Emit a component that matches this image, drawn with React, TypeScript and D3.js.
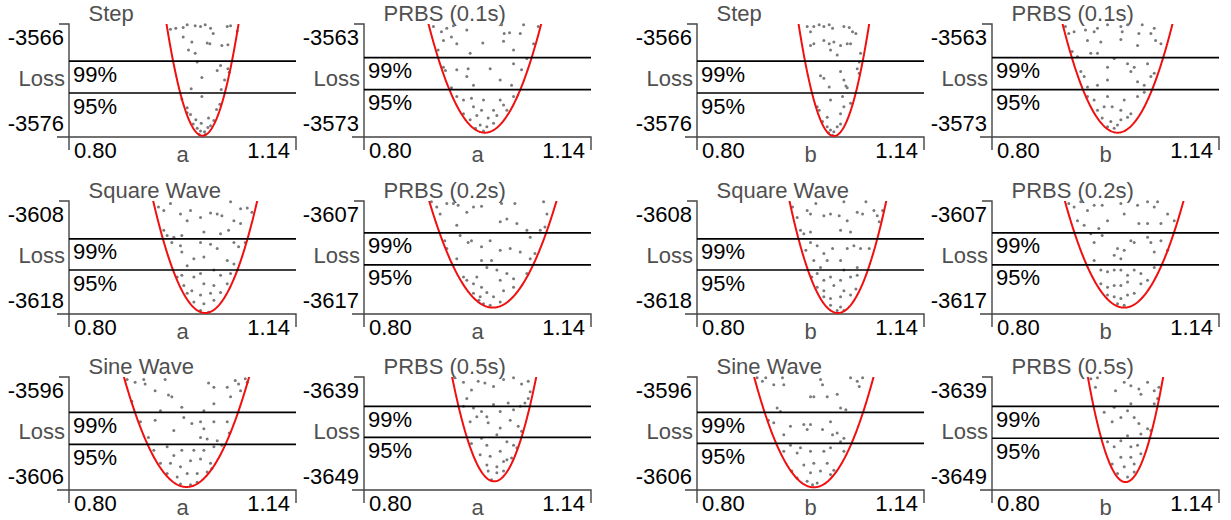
import * as d3 from "d3";

// panel order: row by row, left to right
const titles = ["Step", "PRBS (0.1s)", "Step", "PRBS (0.1s)", "Square Wave", "PRBS (0.2s)", "Square Wave", "PRBS (0.2s)", "Sine Wave", "PRBS (0.5s)", "Sine Wave", "PRBS (0.5s)"];
const paramNames = ["a", "a", "b", "b", "a", "a", "b", "b", "a", "a", "b", "b"];
const yTickTop = [-3566, -3563, -3566, -3563, -3608, -3607, -3608, -3607, -3596, -3639, -3596, -3639];
const yTickBottom = [-3576, -3573, -3576, -3573, -3618, -3617, -3618, -3617, -3606, -3649, -3606, -3649];
const xTicks = [0.8, 1.14];

// fitted quadratic: loss = fitMin + fitCurv * (p - fitArg)^2
const fitArg = [1.0, 0.981, 1.005, 0.988, 1.004, 0.993, 1.011, 0.998, 0.976, 0.995, 0.975, 1.0];
const fitMin = [-3577.45, -3574.1, -3577.49, -3574.1, -3619.48, -3617.86, -3619.48, -3617.86, -3607.25, -3649.6, -3607.29, -3649.68];
const fitCurv = [4450, 1770, 4650, 1860, 2140, 1360, 2470, 1565, 1450, 3050, 1600, 3830];

const level99 = [-3568.8, -3565.4, -3568.8, -3565.4, -3610.9, -3609.2, -3610.9, -3609.2, -3598.6, -3640.9, -3598.6, -3640.9];
const level95 = [-3572.5, -3569.1, -3572.5, -3569.1, -3614.5, -3612.9, -3614.5, -3612.9, -3602.3, -3644.5, -3602.2, -3644.6];

const stepA = [[0.952,-3565.1],[0.960,-3565.0],[0.971,-3564.9],[0.977,-3564.6],[0.989,-3564.7],[0.997,-3564.8],[1.004,-3564.6],[1.012,-3565.0],[1.016,-3565.6],[1.037,-3564.8],[1.042,-3564.7],[1.052,-3565.3],[0.984,-3566.6],[0.979,-3567.5],[0.989,-3567.9],[1.007,-3566.7],[1.011,-3566.8],[1.029,-3567.0],[1.038,-3566.9],[0.971,-3566.0],[0.992,-3568.9],[1.027,-3569.3],[1.022,-3569.9],[1.038,-3569.7],[1.040,-3570.1],[0.999,-3570.7],[1.033,-3571.0],[0.983,-3572.0],[0.999,-3572.9],[1.028,-3572.1],[0.969,-3573.2],[0.977,-3574.2],[0.977,-3574.8],[0.982,-3575.0],[1.026,-3573.8],[1.021,-3574.4],[1.009,-3575.4],[0.990,-3575.6],[1.017,-3575.7],[0.986,-3576.1],[0.992,-3576.6],[0.997,-3576.9],[1.003,-3577.0],[1.008,-3576.5],[1.012,-3576.3],[0.995,-3577.3],[1.004,-3577.3],[0.998,-3576.0]];
const prbs01A = [[0.904,-3561.8],[0.916,-3562.4],[0.924,-3562.0],[0.934,-3561.7],[0.954,-3562.2],[0.931,-3563.0],[0.919,-3563.4],[0.939,-3563.8],[0.959,-3564.9],[0.978,-3563.7],[1.006,-3561.6],[1.010,-3562.6],[1.018,-3562.5],[1.034,-3562.6],[1.039,-3561.6],[1.061,-3561.8],[1.054,-3563.8],[1.024,-3564.5],[1.044,-3565.5],[1.009,-3563.5],[0.911,-3564.5],[0.919,-3566.5],[0.922,-3566.9],[0.939,-3566.8],[0.954,-3567.6],[0.964,-3568.6],[0.956,-3566.7],[0.989,-3566.7],[1.024,-3566.1],[1.036,-3566.8],[1.004,-3568.0],[1.021,-3568.6],[0.931,-3568.9],[0.939,-3569.9],[0.949,-3570.3],[0.961,-3570.1],[0.979,-3570.3],[1.004,-3570.3],[1.024,-3569.9],[0.964,-3571.1],[0.976,-3571.5],[0.994,-3571.5],[1.009,-3570.9],[0.949,-3571.9],[0.969,-3572.1],[0.986,-3572.4],[0.999,-3572.1],[1.014,-3571.5],[0.959,-3572.6],[0.974,-3573.2],[0.984,-3573.4],[0.994,-3573.0],[0.967,-3573.6],[0.979,-3573.9]];
const stepB = [[0.965,-3564.8],[0.970,-3565.4],[0.975,-3564.8],[0.983,-3564.6],[0.990,-3564.8],[0.998,-3564.6],[1.003,-3565.0],[1.020,-3564.8],[1.028,-3564.9],[1.033,-3565.4],[1.038,-3565.6],[0.990,-3566.4],[0.998,-3566.8],[1.005,-3566.6],[1.015,-3567.0],[1.025,-3566.8],[1.030,-3566.8],[0.970,-3567.0],[0.975,-3566.8],[1.000,-3567.5],[1.010,-3568.1],[1.045,-3567.9],[1.043,-3568.9],[1.015,-3570.0],[1.020,-3571.0],[1.040,-3569.7],[1.043,-3570.2],[0.985,-3570.5],[0.990,-3570.8],[1.023,-3571.7],[1.025,-3571.9],[0.998,-3571.8],[1.018,-3572.9],[1.000,-3573.3],[0.980,-3574.1],[0.983,-3574.5],[0.995,-3575.3],[1.020,-3574.1],[1.030,-3573.7],[1.015,-3574.9],[0.988,-3575.8],[0.995,-3576.4],[1.000,-3576.8],[1.005,-3577.0],[1.010,-3576.4],[1.015,-3576.1],[0.997,-3577.1],[1.003,-3577.4]];
const prbs01B = [[0.910,-3561.8],[0.915,-3562.6],[0.923,-3562.4],[0.940,-3562.2],[0.953,-3562.4],[0.958,-3562.0],[0.963,-3563.6],[0.943,-3563.4],[0.973,-3561.6],[0.993,-3561.8],[0.995,-3562.4],[1.003,-3561.6],[1.020,-3562.6],[1.025,-3561.6],[1.038,-3562.6],[1.043,-3562.0],[1.045,-3563.4],[1.053,-3563.8],[0.993,-3563.3],[1.018,-3564.0],[0.920,-3564.7],[0.928,-3565.3],[0.948,-3564.9],[0.958,-3564.9],[0.973,-3566.5],[0.983,-3565.5],[1.003,-3566.1],[1.013,-3566.5],[1.033,-3566.1],[1.043,-3567.2],[1.038,-3567.6],[1.008,-3567.0],[0.933,-3567.0],[0.938,-3567.6],[0.973,-3568.0],[1.018,-3568.2],[1.028,-3568.6],[0.943,-3568.8],[0.958,-3568.6],[0.943,-3569.9],[0.953,-3570.3],[0.973,-3569.9],[0.998,-3570.3],[1.018,-3569.9],[1.028,-3569.4],[0.958,-3571.5],[0.968,-3571.1],[0.980,-3571.1],[0.993,-3571.5],[1.008,-3571.9],[0.965,-3572.4],[0.978,-3572.8],[0.993,-3572.6],[1.003,-3572.3],[0.973,-3573.4],[0.983,-3573.6],[0.988,-3573.2]];
const squareA = [[0.934,-3607.2],[0.942,-3607.6],[0.952,-3606.8],[0.967,-3608.0],[0.982,-3607.6],[0.997,-3608.4],[1.012,-3607.9],[1.022,-3608.0],[1.029,-3608.2],[1.042,-3606.6],[1.057,-3607.4],[1.067,-3607.3],[1.074,-3607.8],[1.047,-3608.8],[1.057,-3609.1],[1.039,-3609.9],[1.027,-3610.3],[1.002,-3610.1],[0.977,-3608.8],[0.942,-3609.9],[0.947,-3610.5],[0.957,-3610.7],[0.969,-3610.5],[0.954,-3611.3],[0.967,-3611.7],[0.969,-3612.4],[0.997,-3611.3],[1.012,-3611.5],[1.022,-3612.0],[1.047,-3611.3],[1.054,-3611.8],[1.064,-3611.3],[1.002,-3613.0],[0.987,-3613.2],[1.037,-3613.4],[1.047,-3613.8],[0.977,-3614.0],[0.962,-3615.3],[0.969,-3615.1],[0.987,-3615.3],[0.997,-3614.9],[1.017,-3614.5],[1.027,-3615.1],[1.042,-3614.9],[0.972,-3616.3],[0.984,-3616.9],[1.002,-3616.1],[1.017,-3616.3],[1.037,-3616.1],[0.977,-3617.2],[0.997,-3617.4],[1.012,-3617.2],[1.027,-3617.1],[0.987,-3618.2],[1.002,-3618.4],[1.017,-3618.0],[0.997,-3619.2],[1.009,-3619.4]];
const prbs02A = [[0.901,-3605.6],[0.909,-3606.2],[0.914,-3607.0],[0.924,-3605.8],[0.934,-3605.8],[0.941,-3606.0],[0.954,-3606.8],[0.964,-3606.2],[0.976,-3606.1],[0.939,-3608.3],[0.944,-3609.5],[0.956,-3610.3],[0.961,-3610.1],[0.976,-3610.8],[0.989,-3610.1],[1.004,-3607.9],[1.006,-3605.8],[1.014,-3607.6],[1.026,-3605.8],[1.029,-3608.1],[1.044,-3608.9],[1.049,-3609.7],[1.069,-3605.6],[1.074,-3607.0],[1.071,-3608.5],[1.064,-3608.9],[1.056,-3611.6],[1.049,-3612.2],[1.034,-3611.4],[1.019,-3611.0],[1.004,-3611.2],[0.991,-3612.4],[0.976,-3612.4],[0.939,-3612.2],[0.921,-3610.1],[0.924,-3611.0],[0.949,-3614.3],[0.954,-3614.7],[0.964,-3615.1],[0.969,-3614.3],[0.976,-3615.5],[0.984,-3613.2],[0.999,-3613.5],[1.004,-3614.7],[1.014,-3613.9],[1.024,-3614.5],[1.044,-3613.9],[0.964,-3616.2],[0.974,-3616.6],[0.984,-3616.1],[0.994,-3616.6],[1.009,-3615.9],[1.024,-3615.5],[0.979,-3617.4],[0.989,-3617.6],[1.004,-3617.2],[0.972,-3617.0]];
const squareB = [[0.943,-3607.2],[0.950,-3608.4],[0.965,-3607.6],[0.970,-3608.0],[0.978,-3606.8],[0.990,-3608.2],[1.000,-3608.0],[1.013,-3608.2],[1.020,-3606.6],[1.025,-3608.8],[1.040,-3607.8],[1.048,-3608.0],[1.053,-3606.6],[1.065,-3607.6],[1.070,-3608.2],[1.078,-3607.6],[1.073,-3608.9],[1.030,-3610.1],[1.015,-3609.9],[0.970,-3610.1],[0.960,-3610.3],[0.955,-3609.9],[0.970,-3611.3],[0.963,-3612.2],[0.980,-3611.7],[0.990,-3612.6],[1.003,-3612.0],[1.015,-3613.4],[1.025,-3612.0],[1.035,-3611.7],[1.045,-3612.0],[1.058,-3612.0],[0.975,-3613.4],[0.985,-3614.2],[0.995,-3613.4],[1.020,-3614.5],[1.040,-3614.2],[0.972,-3615.3],[0.980,-3614.9],[0.990,-3615.7],[1.000,-3615.3],[1.015,-3615.7],[1.030,-3615.3],[1.040,-3615.1],[0.980,-3616.5],[0.990,-3616.9],[1.005,-3616.3],[1.020,-3616.9],[1.038,-3616.7],[0.990,-3617.6],[1.000,-3617.8],[1.015,-3617.6],[1.030,-3617.4],[1.000,-3618.6],[1.015,-3618.8],[1.010,-3619.2],[1.020,-3619.2]];
const prbs02B = [[0.915,-3605.8],[0.923,-3606.2],[0.933,-3605.6],[0.943,-3606.6],[0.953,-3606.0],[0.965,-3606.0],[0.973,-3607.8],[0.993,-3605.8],[0.998,-3607.0],[1.018,-3606.0],[1.033,-3605.6],[1.043,-3606.2],[1.048,-3605.6],[1.063,-3607.0],[1.073,-3607.8],[1.053,-3608.1],[1.033,-3608.1],[1.020,-3608.1],[0.928,-3607.8],[0.938,-3608.3],[0.948,-3609.3],[0.960,-3608.7],[0.953,-3610.3],[0.965,-3609.5],[0.988,-3611.0],[0.998,-3611.2],[1.008,-3610.1],[1.013,-3610.3],[1.033,-3609.7],[1.038,-3610.3],[1.053,-3610.1],[1.063,-3611.2],[1.043,-3611.4],[0.983,-3611.8],[0.993,-3612.2],[0.953,-3612.4],[0.963,-3613.5],[0.973,-3613.7],[0.983,-3613.5],[0.993,-3613.5],[1.003,-3614.1],[1.013,-3613.5],[1.023,-3613.9],[1.043,-3613.2],[0.963,-3615.1],[0.973,-3615.5],[0.983,-3615.3],[0.993,-3615.3],[1.003,-3614.9],[1.023,-3615.1],[1.033,-3614.7],[0.973,-3616.4],[0.983,-3616.6],[0.993,-3616.8],[1.003,-3616.4],[1.013,-3616.2],[0.988,-3617.4],[0.998,-3617.6]];
const sineA = [[0.887,-3594.8],[0.899,-3595.1],[0.912,-3594.8],[0.914,-3595.3],[0.929,-3596.1],[0.944,-3594.8],[0.949,-3596.6],[0.954,-3596.8],[0.969,-3598.0],[1.009,-3595.2],[1.017,-3595.7],[1.037,-3595.7],[1.049,-3594.9],[1.054,-3595.3],[1.064,-3594.7],[1.067,-3595.1],[1.057,-3596.1],[1.042,-3596.8],[1.017,-3597.6],[1.002,-3598.4],[0.894,-3597.3],[0.907,-3599.7],[0.919,-3601.5],[0.929,-3599.5],[0.937,-3598.4],[0.957,-3600.7],[0.972,-3599.2],[0.984,-3599.9],[0.997,-3599.7],[1.002,-3600.5],[1.017,-3599.7],[1.037,-3599.7],[1.040,-3601.0],[0.997,-3601.5],[1.007,-3601.7],[1.022,-3601.9],[0.927,-3603.0],[0.947,-3602.6],[0.957,-3603.6],[0.969,-3603.0],[0.987,-3603.0],[1.002,-3603.0],[1.017,-3602.6],[1.029,-3602.4],[0.937,-3604.5],[0.952,-3604.5],[0.967,-3604.9],[0.982,-3604.2],[0.997,-3604.0],[1.012,-3604.5],[1.014,-3605.1],[0.947,-3605.7],[0.962,-3606.1],[0.977,-3605.7],[0.992,-3605.7],[1.007,-3605.5],[0.967,-3606.9],[0.982,-3607.0],[0.992,-3606.7]];
const prbs05A = [[0.936,-3637.6],[0.949,-3638.1],[0.961,-3639.0],[0.971,-3638.0],[0.981,-3638.2],[0.994,-3638.6],[1.009,-3637.8],[1.024,-3637.6],[1.036,-3638.3],[1.046,-3638.0],[0.954,-3640.0],[0.964,-3641.1],[0.976,-3641.5],[0.984,-3642.1],[0.994,-3640.7],[1.004,-3641.5],[1.016,-3640.5],[1.024,-3641.3],[1.034,-3640.9],[1.041,-3640.5],[1.049,-3639.2],[1.046,-3640.0],[0.949,-3640.9],[0.959,-3642.7],[0.969,-3642.1],[0.986,-3642.8],[1.004,-3643.4],[1.019,-3642.5],[1.031,-3643.2],[1.036,-3643.8],[0.961,-3645.2],[0.976,-3644.6],[0.984,-3645.4],[0.999,-3644.2],[1.014,-3645.0],[1.024,-3645.4],[1.029,-3645.7],[0.974,-3646.5],[0.989,-3646.7],[1.004,-3646.1],[1.014,-3647.1],[0.984,-3647.7],[0.999,-3647.9],[1.009,-3647.3],[1.021,-3646.9],[0.986,-3648.4],[0.999,-3648.6],[1.009,-3648.4],[0.991,-3649.4]];
const sineB = [[0.890,-3594.6],[0.898,-3595.0],[0.903,-3594.6],[0.915,-3595.4],[0.928,-3594.6],[0.930,-3595.4],[0.985,-3594.8],[0.988,-3595.4],[0.970,-3596.8],[0.975,-3596.8],[0.995,-3596.8],[1.010,-3596.5],[1.030,-3594.6],[1.040,-3595.0],[1.048,-3594.6],[1.043,-3595.6],[1.023,-3598.3],[1.015,-3598.1],[0.920,-3598.1],[0.925,-3598.5],[0.907,-3599.5],[0.915,-3599.8],[0.930,-3601.2],[0.940,-3600.2],[0.960,-3600.0],[0.965,-3600.6],[0.970,-3600.0],[0.988,-3600.6],[1.000,-3599.7],[1.003,-3601.2],[1.010,-3601.0],[1.020,-3601.6],[1.015,-3602.0],[0.940,-3602.4],[0.930,-3603.1],[0.950,-3603.3],[0.955,-3602.7],[0.970,-3603.1],[0.990,-3603.1],[1.000,-3602.7],[1.020,-3603.1],[0.960,-3604.7],[0.975,-3604.5],[0.995,-3604.5],[1.005,-3605.3],[0.942,-3605.4],[0.970,-3605.6],[0.985,-3605.4],[1.000,-3605.8],[0.950,-3606.2],[0.965,-3606.6],[0.980,-3606.8],[0.973,-3607.0]];
const prbs05B = [[0.948,-3637.7],[0.958,-3637.6],[0.955,-3638.7],[0.985,-3639.1],[0.998,-3638.1],[1.008,-3638.5],[1.020,-3638.9],[1.023,-3639.5],[1.033,-3638.1],[1.043,-3639.1],[1.050,-3638.7],[1.048,-3640.0],[1.043,-3640.6],[1.008,-3640.6],[1.003,-3641.4],[0.983,-3641.0],[0.968,-3641.6],[0.980,-3642.7],[0.993,-3642.2],[1.013,-3642.2],[1.020,-3642.9],[1.033,-3643.5],[1.038,-3643.7],[1.023,-3644.1],[1.003,-3644.3],[0.993,-3644.9],[0.973,-3645.0],[0.983,-3645.6],[1.008,-3645.6],[1.018,-3645.4],[1.023,-3646.4],[0.993,-3646.8],[1.008,-3646.8],[0.980,-3647.6],[0.998,-3647.9],[1.013,-3647.6],[0.988,-3648.7],[1.003,-3649.1],[1.013,-3648.5]];

const panelDots = [stepA, prbs01A, stepB, prbs01B, squareA, prbs02A, squareB, prbs02B, sineA, prbs05A, sineB, prbs05B];

const W = 1231;
const H = 520;
const colX = [69, 364, 697, 992];
const rowY = [24, 201, 377];
const PW = 227;
const PH = 113;
const FONT = "'Liberation Sans', Arial, sans-serif";
const GREY_TEXT = "#505050";

function Panel({ i }: { i: number }) {
  const x0 = colX[i % 4];
  const y0 = rowY[Math.floor(i / 4)];
  const x = d3.scaleLinear().domain([xTicks[0], xTicks[1]]).range([x0, x0 + PW]);
  const y = d3
    .scaleLinear()
    .domain([yTickBottom[i] - 1.6, yTickTop[i] + 1.5])
    .range([y0 + PH, y0]);

  // fitted curve
  const pts = d3.range(xTicks[0], xTicks[1] + 0.0005, 0.001).map((p) => [p, fitMin[i] + fitCurv[i] * (p - fitArg[i]) ** 2]);
  const line = d3
    .line<number[]>()
    .x((d) => x(d[0]))
    .y((d) => y(d[1]));

  const fmt = d3.format(".2f");
  const midLoss = (yTickTop[i] + yTickBottom[i]) / 2;

  return (
    <g>
      <defs>
        <clipPath id={`clip${i}`}>
          <rect x={x0} y={y0} width={PW} height={PH + 2} />
        </clipPath>
      </defs>
      <text x={x0 + 19.5} y={y0 - 3.5} fontSize={22} fill={GREY_TEXT}>
        {titles[i]}
      </text>

      {/* axes */}
      <path d={`M${x0 - 10},${y0}H${x0}V${y0 + PH + 13}`} fill="none" stroke="#444" strokeWidth={1.4} />
      <path d={`M${x0 - 12},${y0 + PH}H${x0 + PW}V${y0 + PH + 13}`} fill="none" stroke="#444" strokeWidth={1.4} />

      {/* y labels */}
      <text x={x0 - 5} y={y(yTickTop[i])} dy="0.35em" textAnchor="end" fontSize={22} fill="#000">
        {String(yTickTop[i])}
      </text>
      <text x={x0 - 5} y={y(yTickBottom[i])} dy="0.35em" textAnchor="end" fontSize={22} fill="#000">
        {String(yTickBottom[i])}
      </text>
      <text x={x0 - 4} y={y(midLoss) + 6} textAnchor="end" fontSize={22} fill={GREY_TEXT}>
        Loss
      </text>

      {/* x labels */}
      <text x={x(xTicks[0]) + 5} y={y0 + PH + 21} fontSize={22} fill="#000">
        {fmt(xTicks[0])}
      </text>
      <text x={x(xTicks[1]) - 6} y={y0 + PH + 21} textAnchor="end" fontSize={22} fill="#000">
        {fmt(xTicks[1])}
      </text>
      <text x={x0 + PW / 2} y={y0 + PH + 25} textAnchor="middle" fontSize={22} fill={GREY_TEXT}>
        {paramNames[i]}
      </text>

      {/* dots */}
      {panelDots[i].map((d, k) => (
        <circle key={k} cx={x(d[0])} cy={y(d[1])} r={1.5} fill="#7a7a7a" />
      ))}

      {/* curve */}
      <path d={line(pts) || ""} fill="none" stroke="#f01010" strokeWidth={2} clipPath={`url(#clip${i})`} />

      {/* confidence levels */}
      {[level99[i], level95[i]].map((lv, k) => (
        <g key={k}>
          <line x1={x0} x2={x0 + PW} y1={y(lv)} y2={y(lv)} stroke="#000" strokeWidth={1.7} />
          <text x={x0 + 4} y={y(lv) + 20.5} fontSize={22} fill="#000">
            {k === 0 ? "99%" : "95%"}
          </text>
        </g>
      ))}
    </g>
  );
}

export default function App() {
  return (
    <svg
      width={W}
      height={H}
      style={{ position: "absolute", left: 0, top: 0, background: "#fff" }}
      fontFamily={FONT}
    >
      <rect width={W} height={H} fill="#fff" />
      {titles.map((_, i) => (
        <Panel key={i} i={i} />
      ))}
    </svg>
  );
}
